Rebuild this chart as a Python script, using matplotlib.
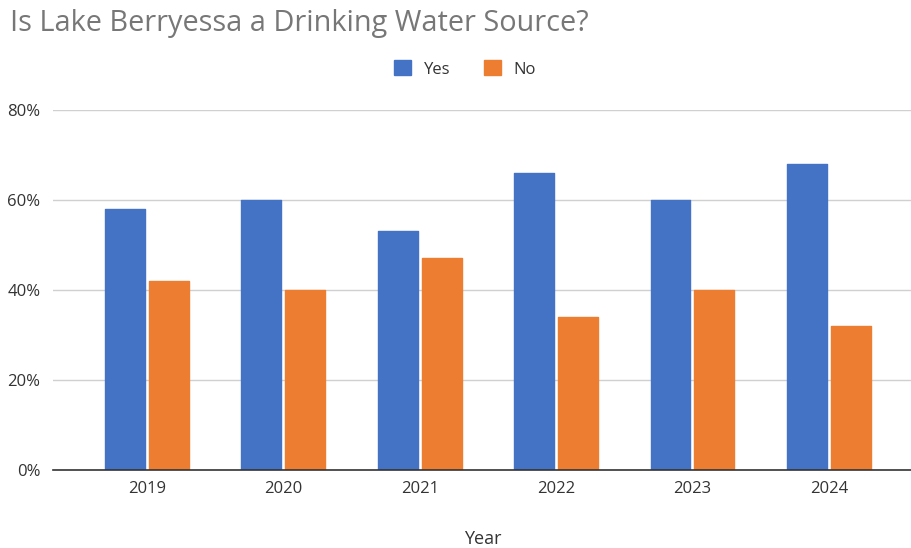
import matplotlib
matplotlib.use('Agg')
import matplotlib.pyplot as plt
import numpy as np
from matplotlib.ticker import FuncFormatter

years = ['2019', '2020', '2021', '2022', '2023', '2024']
yes_vals = [58, 60, 53, 66, 60, 68]
no_vals = [42, 40, 47, 34, 40, 32]

blue = '#4472C4'
orange = '#ED7D31'

plt.rcParams['font.family'] = ['Open Sans', 'DejaVu Sans']

fig = plt.figure(figsize=(9.12, 5.48), dpi=100)
ax = fig.add_axes([0.0581, 0.1423, 0.9419, 0.657])

x = np.arange(len(years))
w = 0.293
off = 0.161
ax.bar(x - off, yes_vals, w, color=blue, edgecolor=blue, linewidth=1, joinstyle='round', label='Yes', zorder=3)
ax.bar(x + off, no_vals, w, color=orange, edgecolor=orange, linewidth=1, joinstyle='round', label='No', zorder=3)

ax.set_ylim(0, 80)
ax.set_xlim(-0.689, 5.61)
ax.set_yticks([0, 20, 40, 60, 80])
ax.yaxis.set_major_formatter(FuncFormatter(lambda v, p: '{:d}%'.format(int(v))))
ax.set_xticks(x)
ax.set_xticklabels(years)
ax.tick_params(axis='both', length=0, labelsize=12, colors='#333333')
ax.tick_params(axis='y', pad=9)
ax.tick_params(axis='x', pad=8)
ax.grid(axis='y', color='#d0d0d0', linewidth=1, zorder=0)
for s in ['top', 'right', 'left']:
    ax.spines[s].set_visible(False)
ax.spines['bottom'].set_color('#333333')
ax.spines['bottom'].set_linewidth(1.2)
ax.spines['bottom'].set_zorder(4)

ax.set_xlabel('Year', fontsize=13, color='#333333', labelpad=24)

fig.text(0.011, 0.958, 'Is Lake Berryessa a Drinking Water Source?', fontsize=20.8,
         color='#777777', ha='left', va='center')

leg = fig.legend(loc='center', bbox_to_anchor=(0.51, 0.874), ncol=2, frameon=False,
                 fontsize=12, handlelength=1.0, handleheight=1.0, columnspacing=2.0,
                 handletextpad=0.8)
for t in leg.get_texts():
    t.set_color('#333333')

plt.savefig('out.png', dpi=100)
